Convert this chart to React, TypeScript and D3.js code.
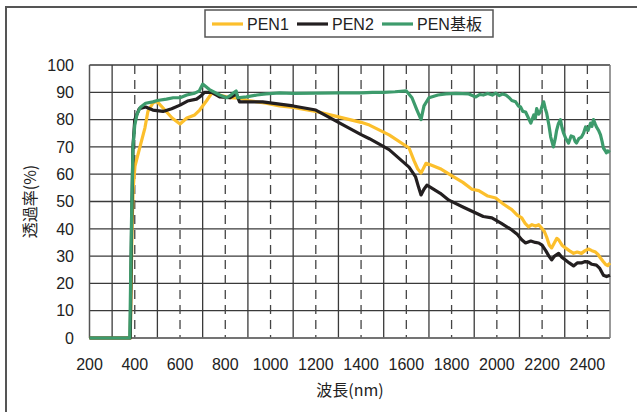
import * as d3 from 'd3';

// wavelength (nm) / transmittance (%)
const penBaseNm = [200, 370, 378, 385, 392, 400, 410, 425, 448, 480, 500, 540, 570, 600, 630, 665, 685, 700, 715, 730, 775, 805, 825, 840, 848, 855, 893, 940, 980, 1040, 1100, 1200, 1300, 1400, 1450, 1500, 1550, 1600, 1625, 1647, 1665, 1678, 1700, 1740, 1775, 1820, 1876, 1907, 1925, 1940, 1960, 1980, 1995, 2010, 2025, 2040, 2055, 2066, 2083, 2095, 2105, 2115, 2127, 2140, 2150, 2163, 2170, 2176, 2185, 2193, 2200, 2207, 2214, 2220, 2230, 2238, 2250, 2258, 2264, 2272, 2281, 2288, 2295, 2305, 2317, 2328, 2339, 2346, 2352, 2362, 2374, 2383, 2392, 2403, 2414, 2420, 2427, 2434, 2440, 2450, 2458, 2465, 2471, 2480, 2484, 2490, 2500];
const penBaseVal = [0, 0, 0, 40, 70, 78, 82, 84.5, 86, 86.5, 87, 87.5, 88, 88, 89, 89.7, 90.5, 93, 92, 91, 89, 88, 89, 90, 90.5, 88, 88.3, 89, 89.4, 89.8, 89.6, 89.7, 89.8, 89.8, 90, 90, 90.2, 90.5, 88, 83.5, 80, 85, 88, 89, 89.4, 89.6, 89.4, 88.3, 89.2, 89, 89.6, 89, 89.7, 88.8, 89.4, 89, 88, 87, 86.5, 85, 84.6, 83, 82.8, 80.5, 78.7, 81.7, 80.5, 84, 82, 83, 85, 86.5, 84, 82.4, 78, 73.6, 70, 73, 76, 78.5, 80, 77, 75, 73, 71.4, 74, 73.6, 72, 71.4, 73, 73.6, 75, 77.3, 76, 78.7, 77.5, 80, 78.5, 77.3, 76, 74.4, 72, 69.6, 68.5, 67.8, 68.5, 68];

const pen1Nm = [200, 375, 380, 388, 393, 401, 423, 445, 458, 480, 490, 500, 533, 565, 600, 630, 665, 687, 718, 740, 775, 820, 863, 900, 980, 1040, 1100, 1200, 1300, 1400, 1437, 1524, 1612, 1634, 1650, 1665, 1687, 1709, 1750, 1800, 1850, 1890, 1920, 1960, 1995, 2030, 2066, 2090, 2110, 2125, 2140, 2155, 2171, 2185, 2198, 2210, 2220, 2232, 2242, 2255, 2265, 2273, 2288, 2303, 2320, 2339, 2355, 2374, 2390, 2405, 2420, 2436, 2448, 2458, 2470, 2480, 2490, 2500];
const pen1Val = [0, 0, 0, 40, 55, 63, 70, 77, 83, 86, 86.5, 86.5, 83.5, 80.6, 78.4, 80.6, 81.7, 83.5, 87, 89.7, 89, 88, 87.9, 87, 86, 85, 84.5, 83, 81, 79, 78, 74.4, 69.6, 65, 62, 60.4, 64, 63.4, 62, 59.5, 57, 54.5, 54, 52, 51.3, 49, 47, 45, 44, 42, 40.7, 41.5, 41, 41.5, 40.3, 39, 37, 34, 33, 35, 36.5, 36, 34, 33, 32, 31, 31.5, 31, 32, 32.6, 32, 31.5, 30.5, 29.3, 28, 27, 26.5, 27.5];

const pen2Nm = [200, 375, 380, 386, 392, 400, 420, 448, 480, 525, 563, 600, 633, 673, 690, 708, 740, 775, 820, 840, 850, 863, 900, 965, 1040, 1100, 1200, 1300, 1400, 1437, 1524, 1612, 1641, 1655, 1665, 1678, 1691, 1700, 1750, 1788, 1850, 1907, 1940, 1978, 2020, 2066, 2090, 2110, 2127, 2150, 2170, 2185, 2200, 2216, 2230, 2242, 2255, 2273, 2288, 2303, 2320, 2339, 2355, 2374, 2390, 2405, 2420, 2440, 2455, 2471, 2485, 2500];
const pen2Val = [0, 0, 0, 40, 70, 80, 84, 84.6, 83.5, 83, 84, 85.3, 86.8, 87.5, 88.5, 90, 90, 88.3, 88, 89, 89.2, 86.5, 86.5, 86.5, 85.7, 85, 83.5, 79, 74.5, 73, 69, 62.6, 59, 55, 52.4, 54.5, 56, 55.5, 53, 50.5, 48, 45.8, 44.5, 44, 42, 39.6, 38, 36, 34.8, 35.5, 35, 34.8, 34, 32, 30, 28.6, 30, 31, 29.5, 28.6, 27.5, 26.4, 27.5, 27.5, 28, 27.8, 27, 26.7, 25.5, 23, 22.5, 23];

const seriesNames = ['PEN1', 'PEN2', 'PEN基板'];
const seriesColors = ['#fcbf2c', '#231f20', '#3d9b6c'];

const xTicks = [200, 400, 600, 800, 1000, 1200, 1400, 1600, 1800, 2000, 2200, 2400];
const xMinor = [300, 500, 700, 900, 1100, 1300, 1500, 1700, 1900, 2100, 2300];
const yTicks = [0, 10, 20, 30, 40, 50, 60, 70, 80, 90, 100];

const W = 637, H = 412;
const left = 89.5, right = 610, top = 65, bottom = 338;
const font = '"Liberation Sans", Arial, sans-serif';
const cjk = '"Noto Sans CJK JP", sans-serif';

export default function App() {
  const x = d3.scaleLinear().domain([200, 2500]).range([left, right]);
  const y = d3.scaleLinear().domain([0, 100]).range([bottom, top]);
  const line = d3.line<[number, number]>().x(d => x(d[0])).y(d => y(d[1]));

  const series = [
    { nm: pen1Nm, val: pen1Val },
    { nm: pen2Nm, val: pen2Val },
    { nm: penBaseNm, val: penBaseVal },
  ];

  // legend layout
  const legX = [212, 297, 382];

  return (
    <svg width={W} height={H} style={{ position: 'absolute', left: 0, top: 0, background: '#fff' }}>
      {/* outer frame */}
      <path d={`M6,${H} V7 H${W}`} fill="none" stroke="#555" strokeWidth={2} />

      {/* horizontal grid */}
      {yTicks.map(t => (
        <line key={'h' + t} x1={left} x2={right} y1={y(t)} y2={y(t)} stroke="#3a3a3a" strokeWidth={1.3} />
      ))}
      {/* odd-hundred solid verticals */}
      {xMinor.map(t => (
        <line key={'m' + t} x1={x(t)} x2={x(t)} y1={top} y2={bottom} stroke="#3a3a3a" strokeWidth={1.3} />
      ))}
      {/* labelled dashed verticals */}
      {xTicks.slice(1).map(t => (
        <line key={'d' + t} x1={x(t)} x2={x(t)} y1={top} y2={bottom} stroke="#444" strokeWidth={1.3} strokeDasharray="9,6" />
      ))}
      <line x1={left} x2={left} y1={top} y2={bottom} stroke="#555" strokeWidth={1.5} />
      <line x1={right} x2={right} y1={top} y2={bottom} stroke="#777" strokeWidth={1.5} />
      <line x1={left} x2={right} y1={bottom} y2={bottom} stroke="#777" strokeWidth={1.5} />

      {/* series */}
      {series.map((s, i) => (
        <path key={i} d={line(s.nm.map((n, j) => [n, s.val[j]] as [number, number])) || ''}
          fill="none" stroke={seriesColors[i]} strokeWidth={3.2} strokeLinejoin="round" />
      ))}

      {/* y tick labels */}
      {yTicks.map(t => (
        <text key={'yl' + t} x={74} y={y(t)} dy="0.36em" textAnchor="end" fontFamily={font} fontSize={16} fill="#222">{t}</text>
      ))}
      {/* x tick labels */}
      {xTicks.map(t => (
        <text key={'xl' + t} x={x(t)} y={370} textAnchor="middle" fontFamily={font} fontSize={16} fill="#222">{t}</text>
      ))}

      <text x={350} y={396} textAnchor="middle" fontFamily={cjk} fontSize={16} fill="#222">波長(nm)</text>
      <text transform={`translate(36,${(top + bottom) / 2}) rotate(-90)`} textAnchor="middle" fontFamily={cjk} fontSize={16} fill="#222">透過率(%)</text>

      {/* legend */}
      <rect x={205} y={10} width={288} height={27} fill="#fff" stroke="#555" strokeWidth={1.5} />
      {seriesNames.map((n, i) => (
        <g key={n}>
          <line x1={legX[i]} x2={legX[i] + 31} y1={24} y2={24} stroke={seriesColors[i]} strokeWidth={3.2} />
          <text x={legX[i] + 35} y={24} dy="0.36em" fontFamily={`${font}, ${cjk}`} fontSize={16} fill="#222">{n}</text>
        </g>
      ))}
    </svg>
  );
}
